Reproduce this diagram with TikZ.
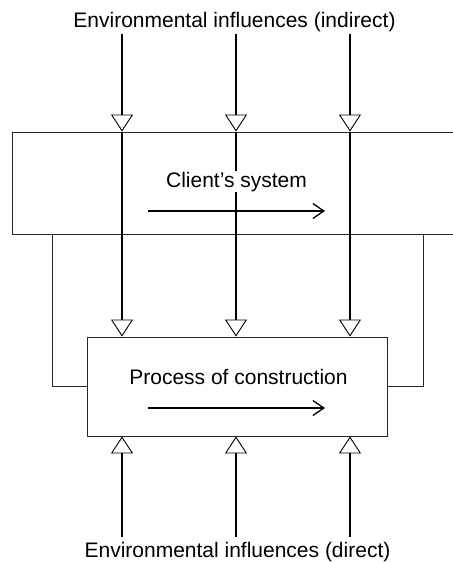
\documentclass[tikz,border=0pt]{standalone}
\usepackage{fontspec}
\setmainfont{Liberation Sans}
\usetikzlibrary{arrows.meta}
\begin{document}
\begin{tikzpicture} %influences on the construction process
		[x=1pt,y=-1pt,
		 font=\fontsize{21}{25}\selectfont,
		 box/.style={draw=black!85,line width=0.9pt,inner sep=0pt},
		 influence/.style={line width=1.4pt,-{Triangle[open,length=17pt,width=22pt,line width=0.9pt]}},
		 feedback/.style={draw=black!85,line width=0.9pt},
		 flow/.style={line width=1.4pt,-{Straight Barb[length=11pt,width=15pt,line width=1.3pt]}}]
	\useasboundingbox (0,0) rectangle (453,563);

	%draw the two boxes
	\node[box,minimum width=448pt,minimum height=102pt] (client) at (236,183) {};
	\node[box,minimum width=300pt,minimum height=99pt] (process) at (237,386.5) {};

	%labels above and below
	\node (indirect) at (234.5,22) {Environmental influences (indirect)};
	\node (direct) at (237.5,552) {Environmental influences (direct)};

	%start points of the influences
	\coordinate (in1) at (122,34);
	\coordinate (in2) at (236,34);
	\coordinate (in3) at (350,34);
	\coordinate (dir1) at (122,537);
	\coordinate (dir2) at (236,537);
	\coordinate (dir3) at (350,537);

	%indirect influences through the client's system
	\foreach \i in {1,2,3} {
		\draw[influence] (in\i) -- (in\i |- client.north);
		\draw[influence] (in\i |- client.north) -- (in\i |- process.north);
		\draw[influence] (dir\i) -- (dir\i |- process.south);
	}

	%feedback from the client's system to the process
	\coordinate (fbL) at (52,0);
	\coordinate (fbR) at (423,0);
	\draw[feedback] (fbL |- client.south) -- (fbL |- process.west) -- (process.west);
	\draw[feedback] (fbR |- client.south) -- (fbR |- process.east) -- (process.east);

	%the flows inside the boxes
	\coordinate (cs) at (148,211);
	\coordinate (ce) at (325,211);
	\coordinate (ps) at (148,408);
	\coordinate (pe) at (325,408);
	\draw[flow] (cs) -- (ce);
	\draw[flow] (ps) -- (pe);

	\node[fill=white,inner sep=1pt,anchor=base] (clientlabel) at (236.5,187) {Client’s system};
	\node[anchor=base] (processlabel) at (238.5,384) {Process of construction};
\end{tikzpicture}
\end{document}
